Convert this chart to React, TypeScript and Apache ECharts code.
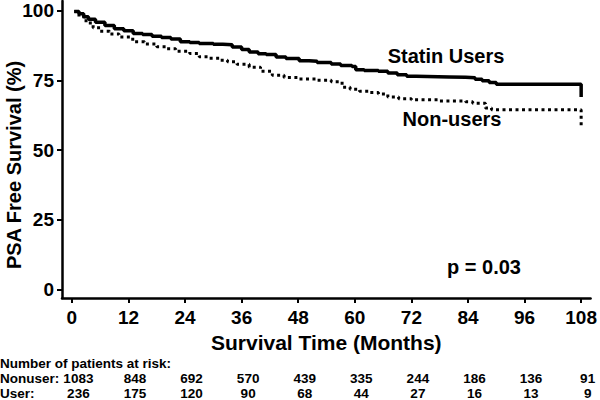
import React, { useEffect, useRef } from "react";
import * as echarts from "echarts";

const riskMonths = [0, 12, 24, 36, 48, 60, 72, 84, 96, 108];
const nonuserAtRisk = [1083, 848, 692, 570, 439, 335, 244, 186, 136, 91];
const userAtRisk = [236, 175, 120, 90, 68, 44, 27, 16, 13, 9];
const yTicks = [0, 25, 50, 75, 100];

const statinMonths = [
  0.5, 1.5, 2.5, 3.5, 5, 7, 9, 11, 13, 15, 17, 19, 21, 23, 25, 27, 30, 32, 34, 36,
  37.6, 39.5, 41.2, 43.3, 45.4, 48.2, 50.3, 52, 55, 57, 59.4, 60.2, 62, 65, 67, 69,
  71, 73, 80, 83.5, 85.5, 87, 88.5, 90, 108,
];
const statinSurvival = [
  99.6, 98.8, 97.8, 96.9, 95.8, 94.6, 93.5, 92.7, 91.8, 91.4, 90.8, 90.3, 89.8, 88.8,
  88.5, 88.2, 87.9, 87.7, 86.9, 86.0, 85.1, 84.5, 84.2, 83.3, 82.8, 82.0, 81.8, 81.4,
  80.8, 80.3, 79.9, 78.8, 78.5, 78.2, 77.6, 77.0, 76.4, 76.2, 76.1, 75.9, 75.4, 74.8,
  74.2, 73.6, 69.0,
];

const nonuserMonths = [
  0.5, 1.5, 3, 4.5, 6, 8, 10, 12.9, 15.4, 18, 20, 22, 25, 27, 29, 31.3, 33, 35, 37.6,
  40, 42.5, 45, 48.2, 52, 55, 57.3, 59, 61, 63, 65, 67, 69.3, 72, 78, 83.5, 85, 87.7,
  89, 108,
];
const nonuserSurvival = [
  99.6, 97.8, 95.5, 93.8, 92.6, 91.6, 90.5, 88.8, 88.0, 87.0, 86.3, 85.4, 84.6, 83.4,
  82.9, 82.2, 81.6, 80.7, 79.7, 78.2, 76.8, 76.0, 75.5, 75.0, 74.5, 72.5, 71.8, 71.1,
  70.6, 70.1, 69.0, 68.4, 68.0, 67.6, 67.3, 66.8, 65.1, 64.4, 58.2,
];

const FONT = '"Liberation Sans", Arial, Helvetica, sans-serif';

export default function App() {
  const ref = useRef<HTMLDivElement>(null);
  useEffect(() => {
    if (!ref.current) return;
    const chart = echarts.init(ref.current, null, { renderer: "svg" });
    const bold = { color: "#000", fontWeight: "bold" as const, fontFamily: FONT };
    const riskAxis = (offset: number, values: number[]) => ({
      type: "value",
      min: -3.475,
      max: 108.625,
      position: "bottom",
      offset,
      axisLine: { show: false },
      axisTick: { show: false },
      splitLine: { show: false },
      axisLabel: {
        customValues: riskMonths,
        margin: 0,
        verticalAlign: "middle",
        fontSize: 13.5,
        ...bold,
        formatter: (v: number) => {
          const i = riskMonths.indexOf(v);
          return i >= 0 ? String(values[i]) : "";
        },
      },
    });
    chart.setOption({
      animation: false,
      grid: { left: 62, right: 8, top: 1, bottom: 102 },
      xAxis: [
        {
          type: "value",
          min: -2.1,
          max: 110,
          position: "bottom",
          axisLine: { onZero: false, lineStyle: { color: "#000", width: 2.5 } },
          axisTick: { customValues: riskMonths, length: 5, lineStyle: { color: "#000", width: 2 } },
          axisLabel: { customValues: riskMonths, margin: 10, fontSize: 19, ...bold },
          splitLine: { show: false },
          name: "Survival Time (Months)",
          nameLocation: "middle",
          nameGap: 31,
          nameTextStyle: { fontSize: 21, ...bold },
        },
        riskAxis(80, nonuserAtRisk),
        riskAxis(95, userAtRisk),
      ],
      yAxis: {
        type: "value",
        min: -3,
        max: 103.4,
        axisLine: { onZero: false, lineStyle: { color: "#000", width: 2.5 } },
        axisTick: { customValues: yTicks, length: 5, lineStyle: { color: "#000", width: 2 } },
        axisLabel: { customValues: yTicks, margin: 8, fontSize: 19, ...bold },
        splitLine: { show: false },
      },
      series: [
        {
          name: "Statin Users",
          type: "line",
          step: "end",
          symbol: "none",
          silent: true,
          data: statinMonths.map((m, i) => [m, statinSurvival[i]]),
          lineStyle: { color: "#000", width: 3.5 },
        },
        {
          name: "Non-users",
          type: "line",
          step: "end",
          symbol: "none",
          silent: true,
          data: nonuserMonths.map((m, i) => [m, nonuserSurvival[i]]),
          lineStyle: { color: "#000", width: 3, type: [3, 3.5] },
        },
      ],
      graphic: [
        {
          type: "text",
          x: 14,
          y: 165,
          rotation: Math.PI / 2,
          style: {
            text: "PSA Free Survival (%)",
            fontSize: 20,
            fontWeight: "bold",
            fontFamily: FONT,
            fill: "#000",
            align: "center",
            verticalAlign: "middle",
          },
        },
        {
          type: "text",
          x: 446,
          y: 56,
          style: { text: "Statin Users", fontSize: 20, fontWeight: "bold", fontFamily: FONT, fill: "#000", align: "center", verticalAlign: "middle" },
        },
        {
          type: "text",
          x: 452,
          y: 119,
          style: { text: "Non-users", fontSize: 20, fontWeight: "bold", fontFamily: FONT, fill: "#000", align: "center", verticalAlign: "middle" },
        },
        {
          type: "text",
          x: 484,
          y: 267,
          style: { text: "p = 0.03", fontSize: 20, fontWeight: "bold", fontFamily: FONT, fill: "#000", align: "center", verticalAlign: "middle" },
        },
        {
          type: "text",
          x: 0,
          y: 363,
          style: { text: "Number of patients at risk:", fontSize: 13.5, fontWeight: "bold", fontFamily: FONT, fill: "#000", align: "left", verticalAlign: "middle" },
        },
        {
          type: "text",
          x: 0,
          y: 378,
          style: { text: "Nonuser:", fontSize: 13.5, fontWeight: "bold", fontFamily: FONT, fill: "#000", align: "left", verticalAlign: "middle" },
        },
        {
          type: "text",
          x: 0,
          y: 393,
          style: { text: "User:", fontSize: 13.5, fontWeight: "bold", fontFamily: FONT, fill: "#000", align: "left", verticalAlign: "middle" },
        },
      ],
    });
    return () => chart.dispose();
  }, []);
  return (
    <div
      ref={ref}
      style={{ position: "absolute", left: 0, top: 0, width: 600, height: 400, background: "#fff" }}
    />
  );
}
